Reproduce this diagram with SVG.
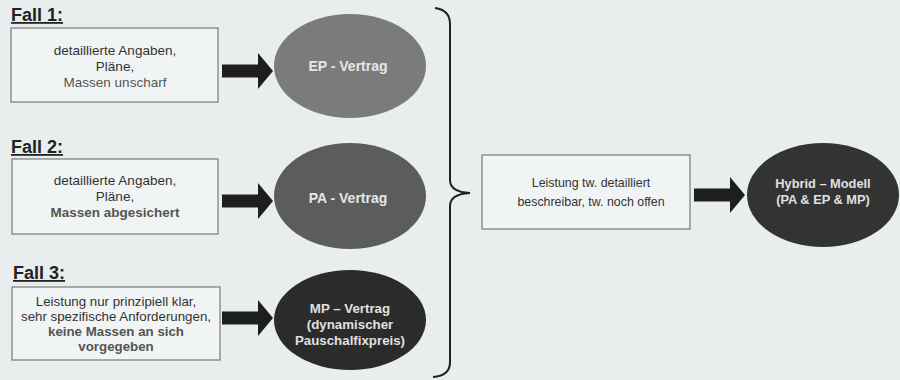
<svg xmlns="http://www.w3.org/2000/svg" width="900" height="380" viewBox="0 0 900 380">
<defs>
<style>
.bg{fill:#e8edee}
.box{fill:#f1f4f4;stroke:#7a7a7a;stroke-width:1.2}
.fall{font-family:"Liberation Sans",Arial,sans-serif;font-size:18px;font-weight:bold;fill:#222;text-decoration:underline}
.bt{font-family:"Liberation Sans",Arial,sans-serif;font-size:13.5px;fill:#333;text-anchor:middle}
.bt3{font-family:"Liberation Sans",Arial,sans-serif;font-size:13.3px;fill:#333;text-anchor:middle}
.bt4{font-family:"Liberation Sans",Arial,sans-serif;font-size:12.4px;fill:#333;text-anchor:middle}
.et{font-family:"Liberation Sans",Arial,sans-serif;font-size:14px;font-weight:bold;fill:#e6e6e6;text-anchor:middle}
.et3{font-family:"Liberation Sans",Arial,sans-serif;font-size:13.3px;font-weight:bold;fill:#e0e0e0;text-anchor:middle}
.eth{font-family:"Liberation Sans",Arial,sans-serif;font-size:12.8px;font-weight:bold;fill:#e0e0e0;text-anchor:middle}
.arr{fill:#1e1e1e}
</style>
<path id="arrow" d="M0,-6.5 H36 V-18 L51,0 L36,18 V6.5 H0 Z"/>
</defs>
<rect class="bg" x="0" y="0" width="900" height="380"/>

<g id="fall1">
<text class="fall" x="11" y="21">Fall 1:</text>
<rect class="box" x="11" y="28" width="207" height="74"/>
<text class="bt" x="115" y="55">detaillierte Angaben,</text>
<text class="bt" x="115" y="71">Pläne,</text>
<text class="bt" x="115" y="87" style="fill:#555">Massen unscharf</text>
</g>

<g id="fall2">
<text class="fall" x="11" y="153">Fall 2:</text>
<rect class="box" x="12" y="159" width="206" height="75"/>
<text class="bt" x="115" y="185">detaillierte Angaben,</text>
<text class="bt" x="115" y="201">Pläne,</text>
<text class="bt" x="115" y="217" style="fill:#555;font-weight:bold">Massen abgesichert</text>
</g>

<g id="fall3">
<text class="fall" x="13" y="279">Fall 3:</text>
<rect class="box" x="12" y="287" width="208" height="73"/>
<text class="bt3" x="116" y="306">Leistung nur prinzipiell klar,</text>
<text class="bt3" x="116" y="321">sehr spezifische Anforderungen,</text>
<text class="bt3" x="116" y="336" style="fill:#555;font-weight:bold">keine Massen an sich</text>
<text class="bt3" x="116" y="351" style="fill:#555;font-weight:bold">vorgegeben</text>
</g>

<g id="ep">
<ellipse cx="350" cy="66" rx="76" ry="52" fill="#7b7b7b"/>
<text class="et" x="348" y="71">EP - Vertrag</text>
</g>

<g id="pa">
<ellipse cx="350" cy="196" rx="76" ry="53" fill="#5c5c5c"/>
<text class="et" x="348" y="203">PA - Vertrag</text>
</g>

<g id="mp">
<ellipse cx="350" cy="320" rx="76" ry="50" fill="#2b2b2b"/>
<text class="et3" x="350" y="313">MP – Vertrag</text>
<text class="et3" x="350" y="329">(dynamischer</text>
<text class="et3" x="350" y="345">Pauschalfixpreis)</text>
</g>

<g id="mixed">
<rect class="box" x="482" y="155" width="208" height="74"/>
<text class="bt4" x="591" y="187">Leistung tw. detailliert</text>
<text class="bt4" x="591" y="206">beschreibar, tw. noch offen</text>
</g>

<g id="hybrid">
<ellipse cx="823" cy="195" rx="76" ry="52" fill="#333333"/>
<text class="eth" x="823" y="188">Hybrid – Modell</text>
<text class="eth" x="823" y="204">(PA &amp; EP &amp; MP)</text>
</g>

<g id="connectors">
<use href="#arrow" class="arr" x="222" y="71"/>
<use href="#arrow" class="arr" x="222" y="201"/>
<use href="#arrow" class="arr" x="222" y="318"/>
<use href="#arrow" class="arr" x="694" y="195"/>
<path d="M435,8 Q450,10 450,24 V180 Q450,192 470,193 Q450,194 450,206 V362 Q450,376 433,377" fill="none" stroke="#222" stroke-width="2"/>
</g>
</svg>
